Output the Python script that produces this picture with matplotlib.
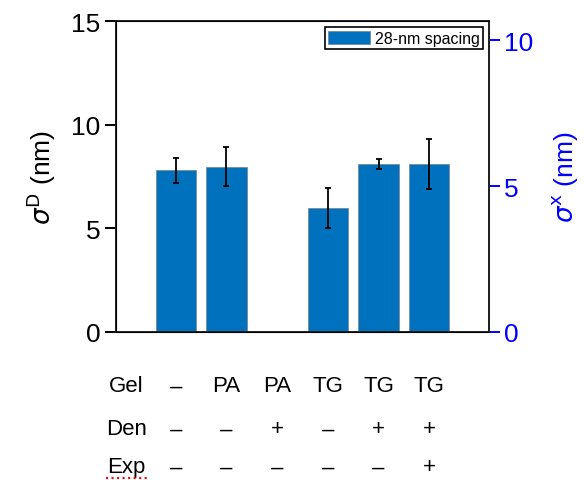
import numpy as np
import matplotlib
matplotlib.use("Agg")
import matplotlib.pyplot as plt
from matplotlib.lines import Line2D

plt.rcParams['font.family'] = ['Liberation Sans', 'DejaVu Sans']

# Data
positions = [1, 2, 3, 4, 5, 6]
sigma_d = [7.79, 7.98, np.nan, 5.98, 8.10, 8.10]
sigma_err = [0.60, 0.93, np.nan, 0.95, 0.25, 1.19]
gel = ['–', 'PA', 'PA', 'TG', 'TG', 'TG']
den = ['–', '–', '+', '–', '+', '+']
exp_ = ['–', '–', '–', '–', '–', '+']
row_labels = ['Gel', 'Den', 'Exp']
series_label = '28-nm spacing'
left_ticks = [0, 5, 10, 15]
right_ticks = [0, 5, 10]

bar_color = '#0071BC'

fig = plt.figure(figsize=(5.84, 4.81), dpi=100)
ax = fig.add_axes([116/584, 1-333/481, 373/584, 311/481])

ax.bar(positions, sigma_d, width=0.8, color=bar_color, edgecolor='#7a8a99',
       linewidth=0.6, label=series_label, zorder=2)
ax.errorbar(positions, sigma_d, yerr=sigma_err, fmt='none', ecolor='black',
            elinewidth=1.3, capsize=2.5, capthick=1.3, zorder=3)

ax.set_xlim(-0.18, 7.18)
ax.set_ylim(0, 15)
ax.set_yticks(left_ticks)
ax.set_xticks([])
for s in ax.spines.values():
    s.set_linewidth(1.4)
    s.set_color('#222222')
ax.tick_params(axis='y', direction='out', length=8, width=1.4, labelsize=19, pad=3)
ax.set_ylabel(r'$\sigma^{\mathrm{D}}$ (nm)', fontsize=19, labelpad=10)

ax2 = ax.twinx()
ax2.set_ylim(0, 311/29.2)
ax2.set_yticks(right_ticks)
ax2.tick_params(axis='y', direction='out', length=8, width=1.4, labelsize=19,
                colors='blue', pad=3)
ax2.spines['right'].set_color('#222222')
ax2.spines['right'].set_linewidth(1.4)
ax2.set_ylabel(r'$\sigma^{\mathrm{x}}$ (nm)', fontsize=19, color='blue',
               rotation=90, labelpad=12)

leg = ax.legend(loc='upper right', fontsize=11.5, frameon=True, fancybox=False,
                edgecolor='black', framealpha=1, borderpad=0.2,
                handlelength=2.6, handleheight=0.9, handletextpad=0.3,
                borderaxespad=0.4)
leg.get_frame().set_linewidth(1.2)

# Condition table under the axis
trans = ax.get_xaxis_transform()
rows = [gel, den, exp_]
row_y = [(333-387)/311, (333-430)/311, (333-468)/311]
for lab, vals, yy in zip(row_labels, rows, row_y):
    ax.text(0.02, yy, lab, transform=trans, ha='center', va='center', fontsize=16)
    for xp, v in zip(positions, vals):
        ax.text(xp, yy, v, transform=trans, ha='center', va='center', fontsize=16)

# red dotted underline under "Exp" (spellcheck mark in original)
fig.add_artist(Line2D([106/584, 147/584], [1-481.5/481+0.006, 1-481.5/481+0.006],
                      color='red', linestyle=':', linewidth=1.5))

fig.savefig('out.png', dpi=100)
